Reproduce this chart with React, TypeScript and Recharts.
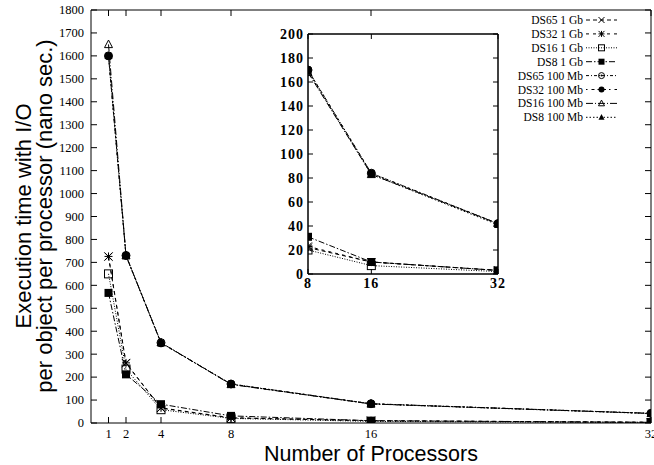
import React from 'react';
import { LineChart, Line, XAxis, YAxis } from 'recharts';

// processors on the x axis
const procs = [1, 2, 4, 8, 16, 32];

// execution time per object per processor (nano sec.)
const ds65Gb = [725, 260, 65, 22, 10, 3];
const ds32Gb = [726, 262, 66, 23, 10, 3];
const ds16Gb = [650, 235, 58, 20, 7, 2];
const ds8Gb = [567, 212, 82, 31, 10, 3];
const ds65Mb = [1600, 730, 350, 170, 84, 42];
const ds32Mb = [1600, 730, 348, 170, 84, 42];
const ds16Mb = [1650, 730, 350, 168, 83, 42];
const ds8Mb = [1600, 728, 350, 169, 83, 41];

const mainXTicks = [1, 2, 4, 8, 16, 32];
const mainYTicks = [0, 100, 200, 300, 400, 500, 600, 700, 800, 900, 1000, 1100, 1200, 1300, 1400, 1500, 1600, 1700, 1800];
const insetXTicks = [8, 16, 32];
const insetYTicks = [0, 20, 40, 60, 80, 100, 120, 140, 160, 180, 200];

type Kind = 'cross' | 'star' | 'box' | 'boxFill' | 'circle' | 'circleFill' | 'tri' | 'triFill';

const series: { key: string; name: string; values: number[]; dash: string; marker: Kind }[] = [
  { key: 'ds65Gb', name: 'DS65 1 Gb', values: ds65Gb, dash: '4 3', marker: 'cross' },
  { key: 'ds32Gb', name: 'DS32 1 Gb', values: ds32Gb, dash: '3 4', marker: 'star' },
  { key: 'ds16Gb', name: 'DS16 1 Gb', values: ds16Gb, dash: '1 1.5', marker: 'box' },
  { key: 'ds8Gb', name: 'DS8 1 Gb', values: ds8Gb, dash: '6 2 1.5 2', marker: 'boxFill' },
  { key: 'ds65Mb', name: 'DS65 100 Mb', values: ds65Mb, dash: '3 2 1 2', marker: 'circle' },
  { key: 'ds32Mb', name: 'DS32 100 Mb', values: ds32Mb, dash: '1.5 4 3 3', marker: 'circleFill' },
  { key: 'ds16Mb', name: 'DS16 100 Mb', values: ds16Mb, dash: '7 2 1 2', marker: 'tri' },
  { key: 'ds8Mb', name: 'DS8 100 Mb', values: ds8Mb, dash: '1.5 2', marker: 'triFill' },
];

const rows = procs.map((p, i) => {
  const r: Record<string, number> = { p };
  series.forEach((s) => (r[s.key] = s.values[i]));
  return r;
});
const insetRows = rows.filter((r) => r.p >= 8);

const SERIF = '"Liberation Serif", "DejaVu Serif", serif';
const SANS = '"Liberation Sans", Arial, sans-serif';

const Marker = ({ kind, cx, cy, s = 4 }: { kind: Kind; cx: number; cy: number; s?: number }) => {
  if (cx == null || cy == null) return null;
  switch (kind) {
    case 'cross':
      return (
        <g stroke="#000" strokeWidth={1}>
          <line x1={cx - s} y1={cy - s} x2={cx + s} y2={cy + s} />
          <line x1={cx - s} y1={cy + s} x2={cx + s} y2={cy - s} />
        </g>
      );
    case 'star':
      return (
        <g stroke="#000" strokeWidth={1}>
          <line x1={cx - s} y1={cy - s} x2={cx + s} y2={cy + s} />
          <line x1={cx - s} y1={cy + s} x2={cx + s} y2={cy - s} />
          <line x1={cx - s} y1={cy} x2={cx + s} y2={cy} />
          <line x1={cx} y1={cy - s} x2={cx} y2={cy + s} />
        </g>
      );
    case 'box':
      return <rect x={cx - s} y={cy - s} width={2 * s} height={2 * s} fill="none" stroke="#000" strokeWidth={1} />;
    case 'boxFill':
      return <rect x={cx - s} y={cy - s} width={2 * s} height={2 * s} fill="#000" />;
    case 'circle':
      return (
        <g>
          <circle cx={cx} cy={cy} r={s} fill="none" stroke="#000" strokeWidth={1} />
          <circle cx={cx} cy={cy} r={1} fill="#000" />
        </g>
      );
    case 'circleFill':
      return <circle cx={cx} cy={cy} r={s} fill="#000" />;
    case 'tri':
      return (
        <polygon
          points={`${cx},${cy - s * 1.1} ${cx + s},${cy + s * 0.8} ${cx - s},${cy + s * 0.8}`}
          fill="none"
          stroke="#000"
          strokeWidth={1}
        />
      );
    case 'triFill':
      return <polygon points={`${cx},${cy - s * 1.1} ${cx + s},${cy + s * 0.8} ${cx - s},${cy + s * 0.8}`} fill="#000" />;
  }
  return null;
};

// inward ticks, gnuplot style
const BottomTick = (p: any) => (
  <g>
    <line x1={p.x} y1={p.y} x2={p.x} y2={p.y - (p.len ?? 6)} stroke="#000" />
    <text x={p.x} y={p.y + (p.dy ?? 16)} textAnchor="middle" fontFamily={SERIF} fontSize={p.fs ?? 12.5}
      fontWeight={p.bold ? 'bold' : 'normal'} letterSpacing={p.ls ?? 0} fill="#000">
      {p.payload.value}
    </text>
  </g>
);
const TopTick = (p: any) => <line x1={p.x} y1={p.y} x2={p.x} y2={p.y + (p.len ?? 6)} stroke="#000" />;
const LeftTick = (p: any) => (
  <g>
    <line x1={p.x} y1={p.y} x2={p.x + (p.len ?? 6)} y2={p.y} stroke="#000" />
    <text x={p.x - (p.dx ?? 7)} y={p.y} dy="0.35em" textAnchor="end" fontFamily={SERIF} fontSize={p.fs ?? 12.5}
      fontWeight={p.bold ? 'bold' : 'normal'} letterSpacing={p.ls ?? 0} fill="#000">
      {p.payload.value}
    </text>
  </g>
);
const RightTick = (p: any) => <line x1={p.x} y1={p.y} x2={p.x - (p.len ?? 6)} y2={p.y} stroke="#000" />;

const renderLines = () =>
  series.map((s) => (
    <Line
      key={s.key}
      dataKey={s.key}
      name={s.name}
      type="linear"
      stroke="#000"
      strokeWidth={1}
      strokeDasharray={s.dash}
      isAnimationActive={false}
      activeDot={false}
      dot={(d: any) => <Marker key={`${s.key}-${d.index}`} kind={s.marker} cx={d.cx} cy={d.cy} s={4} />}
    />
  ));

export default function App() {
  return (
    <div style={{ position: 'absolute', left: 0, top: 0, width: 654, height: 465, background: '#fff' }}>
      <div style={{ position: 'absolute', left: 0, top: 0 }}>
        <LineChart width={654} height={465} data={rows} margin={{ top: 0, right: 0, bottom: 0, left: 0 }}>
          <XAxis dataKey="p" type="number" domain={[0, 32]} ticks={mainXTicks} interval={0} height={42}
            tickSize={0} tickMargin={0} axisLine={{ stroke: '#000' }} tickLine={false} tick={<BottomTick dy={15} />} allowDataOverflow />
          <XAxis xAxisId="top" orientation="top" dataKey="p" type="number" domain={[0, 32]} ticks={mainXTicks} interval={0}
            height={10} tickSize={0} tickMargin={0} axisLine={{ stroke: '#000' }} tickLine={false} tick={<TopTick />} allowDataOverflow />
          <YAxis type="number" domain={[0, 1800]} ticks={mainYTicks} interval={0} width={91}
            tickSize={0} tickMargin={0} axisLine={{ stroke: '#000' }} tickLine={false} tick={<LeftTick />} allowDataOverflow />
          <YAxis yAxisId="right" orientation="right" type="number" domain={[0, 1800]} ticks={mainYTicks} interval={0} width={3}
            tickSize={0} tickMargin={0} axisLine={{ stroke: '#000' }} tickLine={false} tick={<RightTick />} allowDataOverflow />
          {renderLines()}
        </LineChart>
      </div>

      <div style={{ position: 'absolute', left: 270, top: 24 }}>
        <LineChart width={240} height={270} data={insetRows} margin={{ top: 0, right: 0, bottom: 0, left: 0 }}>
          <XAxis dataKey="p" type="number" domain={[8, 32]} ticks={insetXTicks} interval={0} height={20}
            tickSize={0} tickMargin={0} axisLine={{ stroke: '#000', strokeWidth: 1.5 }} tickLine={false}
            tick={<BottomTick len={5} dy={14} bold fs={14} ls={1} />} allowDataOverflow />
          <XAxis xAxisId="top" orientation="top" dataKey="p" type="number" domain={[8, 32]} ticks={insetXTicks} interval={0}
            height={10} tickSize={0} tickMargin={0} axisLine={{ stroke: '#000', strokeWidth: 1.5 }} tickLine={false}
            tick={<TopTick len={5} />} allowDataOverflow />
          <YAxis type="number" domain={[0, 200]} ticks={insetYTicks} interval={0} width={38}
            tickSize={0} tickMargin={0} axisLine={{ stroke: '#000', strokeWidth: 1.5 }} tickLine={false}
            tick={<LeftTick len={5} dx={4} bold fs={14} ls={1} />} allowDataOverflow />
          <YAxis yAxisId="right" orientation="right" type="number" domain={[0, 200]} ticks={insetYTicks} interval={0} width={12}
            tickSize={0} tickMargin={0} axisLine={{ stroke: '#000', strokeWidth: 1.5 }} tickLine={false}
            tick={<RightTick len={5} />} allowDataOverflow />
          {renderLines()}
        </LineChart>
      </div>

      <svg width={654} height={465} style={{ position: 'absolute', left: 0, top: 0, pointerEvents: 'none' }}>
        <text transform="translate(31,216) rotate(-90)" textAnchor="middle" fontFamily={SANS} fontSize={22} fill="#000">
          Execution time with I/O
        </text>
        <text transform="translate(52,216) rotate(-90)" textAnchor="middle" fontFamily={SANS} fontSize={22} fill="#000">
          per object per processor (nano sec.)
        </text>
        <text x={371} y={461} textAnchor="middle" fontFamily={SANS} fontSize={21.5} fill="#000">
          Number of Processors
        </text>
        {series.map((s, i) => {
          const y = 20 + i * 13.9;
          return (
            <g key={s.key}>
              <text x={583} y={y} dy="0.35em" textAnchor="end" fontFamily={SERIF} fontSize={11.5} fill="#000">
                {s.name}
              </text>
              <line x1={586} y1={y} x2={617} y2={y} stroke="#000" strokeWidth={1} strokeDasharray={s.dash} />
              <Marker kind={s.marker} cx={601.5} cy={y} s={3} />
            </g>
          );
        })}
      </svg>
    </div>
  );
}
